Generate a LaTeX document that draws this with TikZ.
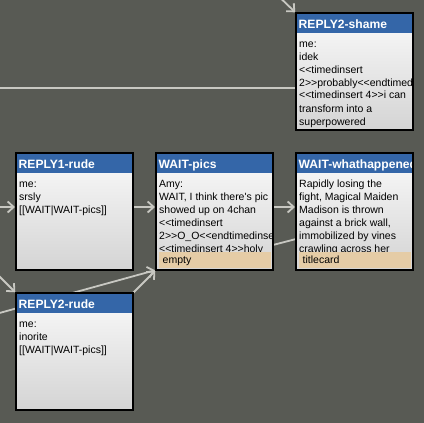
\documentclass[tikz,border=0pt]{standalone}
\usepackage{fontspec}
\newfontfamily\boxfont{Liberation Sans}
\usetikzlibrary{arrows.meta, calc}
\definecolor{Canvas}{RGB}{88,90,84}
\definecolor{LinkGray}{RGB}{200,200,194}
\definecolor{HeadBlue}{RGB}{52,102,168}
\definecolor{BodyTop}{RGB}{250,250,250}
\definecolor{BodyBottom}{RGB}{212,212,212}
\definecolor{TagTan}{RGB}{229,204,166}

% passage box: node name, title, body lines
\newcommand{\passagebox}[3]{%
  \begin{scope}
    \clip (#1.north west) rectangle (#1.south east);
    \shade[top color=BodyTop, bottom color=BodyBottom] (#1.north west) rectangle (#1.south east);
    \fill[HeadBlue] (#1.north west) rectangle ($(#1.north east)+(0,20)$);
    \node[title] (#1-title) at ($(#1.north west)+(2.5,15)$) {#2};
    \foreach \txt [count=\i from 0] in {#3}
      \node[body] (#1-line\i) at ($(#1.north west)+(3,34+13*\i)$) {\txt};
  \end{scope}
  \draw[line width=2pt] (#1.north west) rectangle (#1.south east);
}
% tag strip at the bottom of a passage
\newcommand{\passagetag}[2]{%
  \fill[TagTan] ($(#1.north west)+(3,99)$) rectangle ($(#1.north west)+(115,115)$);
  \node[body] (#1-tag) at ($(#1.north west)+(6.5,110)$) {#2};
}

\begin{document}
\begin{tikzpicture}[x=1pt, y=-1pt,
    passage/.style={minimum width=117pt, minimum height=117pt, inner sep=0pt, outer sep=0pt},
    title/.style={anchor=base west, inner sep=0pt, text=white, font=\boxfont\bfseries\fontsize{12.1}{14}\selectfont},
    body/.style={anchor=base west, inner sep=0pt, font=\boxfont\fontsize{10.5}{13}\selectfont},
    link/.style={draw=LinkGray, line width=1.8pt},
    arrow/.style={link, shorten >=1pt, -{Straight Barb[length=6pt, width=11pt]}}]
    \useasboundingbox (0,0) rectangle (424,423);
    \clip (0,0) rectangle (424,423);
    \fill[Canvas] (0,0) rectangle (424,423);

    % Passages
    \node[passage] (shame) at (354.5,71.5) {};
    \node[passage] (rude1) at (74.5,211.5) {};
    \node[passage] (pics) at (214.5,211.5) {};
    \node[passage] (what) at (354.5,211.5) {};
    \node[passage] (rude2) at (74.5,351.5) {};

    % Links from passages outside the view
    \coordinate (inShame) at (270,-12);
    \coordinate (inLeft) at (-5,88);
    \coordinate (inRude1) at (-5,207);
    \coordinate (inRude2) at (-10,267);
    \coordinate (inPics) at (-10,315.6);

    \draw[arrow] (inShame) -- (shame.north west);
    \draw[link] (inLeft) -- (inLeft -| shame.west);
    \draw[arrow] (inRude1) -- (inRude1 -| rude1.west);
    \draw[arrow] (inRude2) -- (rude2.north west);
    \draw[arrow] (inPics) -- (pics.south west);

    % Links between passages
    \draw[arrow] (inRude1 -| rude1.east) -- (inRude1 -| pics.west);
    \draw[arrow] (inRude1 -| pics.east) -- (inRude1 -| what.west);
    \draw[link] ($(pics.north east)+(0,92)$) -- ($(what.north west)+(0,86)$);
    \draw[arrow] (rude2.north east) -- (pics.south west);

    % Passage contents
    \passagebox{shame}{REPLY2-shame}{me:, idek, <<timedinsert, 2>>probably<<endtimedinsert>>, <<timedinsert 4>>i can, transform into a, superpowered}
    \passagebox{rude1}{REPLY1-rude}{me:, srsly, [[WAIT|WAIT-pics]]}
    \passagebox{pics}{WAIT-pics}{Amy:, {WAIT, I think there's pic}, showed up on 4chan, <<timedinsert, 2>>O\_O<<endtimedinsert>>, <<timedinsert 4>>holy}
    \passagetag{pics}{empty}
    \passagebox{what}{WAIT-whathappened}{Rapidly losing the, {fight, Magical Maiden}, Madison is thrown, {against a brick wall,}, immobilized by vines, crawling across her}
    \passagetag{what}{titlecard}
    \passagebox{rude2}{REPLY2-rude}{me:, inorite, [[WAIT|WAIT-pics]]}
  \end{tikzpicture}
\end{document}
